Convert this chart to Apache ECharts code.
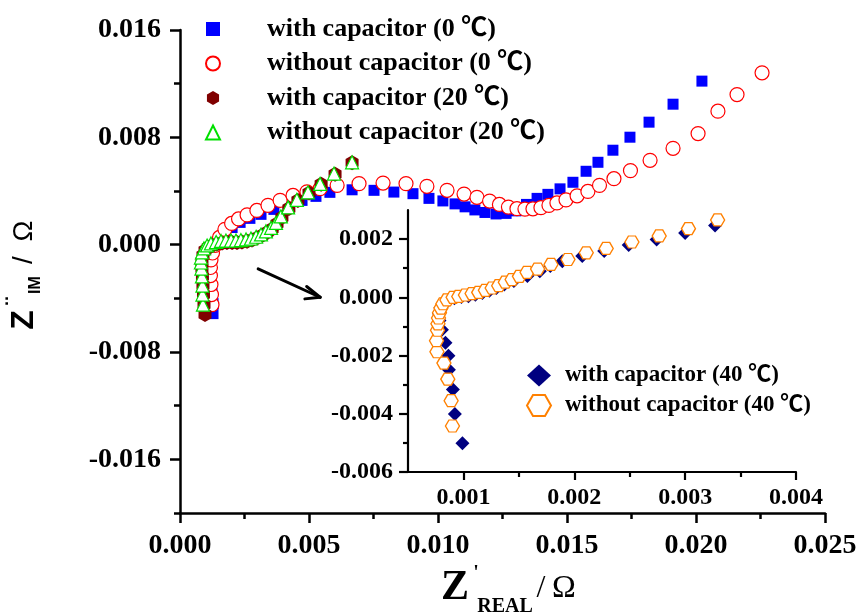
<!DOCTYPE html>
<html>
<head>
<meta charset="utf-8">
<script src="https://cdn.jsdelivr.net/npm/echarts@6/dist/echarts.min.js"></script>
<style>
  html, body { margin: 0; padding: 0; background: #fff; }
  #chart { width: 861px; height: 616px; }
</style>
</head>
<body>
<div id="chart"></div>
<script>
// Nyquist data, [Z'real, Z''im] in ohm
const withCap0C = [[0.00128,-0.00514],[0.00128,-0.00439],[0.00124,-0.00364],[0.00120,-0.00290],[0.00116,-0.00223],[0.00112,-0.00155],[0.00112,-0.00103],[0.00120,-0.00051],[0.00132,-0.00006],[0.00151,0.00046],[0.00174,0.00091],[0.00202,0.00128],[0.00233,0.00166],[0.00271,0.00196],[0.00314,0.00226],[0.00364,0.00263],[0.00419,0.00300],[0.00473,0.00330],[0.00527,0.00360],[0.00581,0.00390],[0.00667,0.00409],[0.00752,0.00405],[0.00829,0.00392],[0.00903,0.00380],[0.00965,0.00345],[0.01019,0.00326],[0.01066,0.00304],[0.01105,0.00282],[0.01143,0.00259],[0.01182,0.00240],[0.01225,0.00229],[0.01264,0.00233],[0.01302,0.00252],[0.01343,0.00300],[0.01384,0.00345],[0.01426,0.00375],[0.01473,0.00416],[0.01523,0.00465],[0.01574,0.00547],[0.01620,0.00614],[0.01678,0.00704],[0.01744,0.00801],[0.01818,0.00913],[0.01911,0.01047],[0.02023,0.01219]];

const withoutCap0C = [[0.00124,-0.00447],[0.00122,-0.00372],[0.00120,-0.00297],[0.00118,-0.00230],[0.00118,-0.00170],[0.00120,-0.00114],[0.00126,-0.00062],[0.00136,-0.00006],[0.00153,0.00054],[0.00174,0.00114],[0.00200,0.00158],[0.00227,0.00192],[0.00260,0.00222],[0.00298,0.00255],[0.00341,0.00293],[0.00388,0.00330],[0.00438,0.00367],[0.00492,0.00394],[0.00543,0.00417],[0.00609,0.00442],[0.00694,0.00455],[0.00787,0.00459],[0.00876,0.00455],[0.00957,0.00435],[0.01035,0.00405],[0.01101,0.00377],[0.01151,0.00353],[0.01200,0.00325],[0.01238,0.00300],[0.01273,0.00280],[0.01306,0.00268],[0.01337,0.00265],[0.01368,0.00267],[0.01399,0.00276],[0.01430,0.00293],[0.01461,0.00311],[0.01496,0.00334],[0.01539,0.00364],[0.01581,0.00397],[0.01626,0.00442],[0.01682,0.00492],[0.01746,0.00552],[0.01822,0.00629],[0.01911,0.00718],[0.02008,0.00828],[0.02085,0.00995],[0.02159,0.01119],[0.02256,0.01281]];

const withCap20C = [[0.00097,-0.00521],[0.00093,-0.00447],[0.00091,-0.00372],[0.00089,-0.00305],[0.00087,-0.00237],[0.00085,-0.00178],[0.00085,-0.00125],[0.00089,-0.00081],[0.00097,-0.00043],[0.00109,-0.00021],[0.00124,-0.00006],[0.00143,0.00005],[0.00163,0.00013],[0.00182,0.00016],[0.00202,0.00016],[0.00221,0.00016],[0.00240,0.00020],[0.00260,0.00026],[0.00279,0.00035],[0.00298,0.00050],[0.00318,0.00069],[0.00337,0.00091],[0.00357,0.00117],[0.00376,0.00155],[0.00395,0.00203],[0.00422,0.00270],[0.00457,0.00330],[0.00500,0.00386],[0.00547,0.00450],[0.00601,0.00524],[0.00667,0.00610]];

const withoutCap20C = [[0.00089,-0.00447],[0.00087,-0.00372],[0.00087,-0.00305],[0.00085,-0.00237],[0.00083,-0.00178],[0.00081,-0.00133],[0.00081,-0.00096],[0.00085,-0.00058],[0.00093,-0.00028],[0.00105,-0.00006],[0.00120,0.00009],[0.00140,0.00020],[0.00159,0.00028],[0.00178,0.00031],[0.00198,0.00031],[0.00217,0.00031],[0.00236,0.00034],[0.00256,0.00039],[0.00275,0.00046],[0.00295,0.00059],[0.00314,0.00076],[0.00333,0.00099],[0.00353,0.00125],[0.00372,0.00162],[0.00391,0.00211],[0.00419,0.00278],[0.00453,0.00334],[0.00496,0.00390],[0.00543,0.00453],[0.00597,0.00530],[0.00667,0.00614]];

const withCap40C = [[0.000991,-0.00501],[0.000923,-0.00401],[0.000905,-0.00317],[0.000869,-0.00249],[0.000865,-0.00201],[0.000838,-0.00156],[0.000806,-0.00111],[0.000784,-0.00080],[0.000779,-0.00056],[0.000793,-0.00036],[0.000820,-0.00020],[0.000865,-0.00010],[0.000919,-0.00003],[0.000982,0.00001],[0.001045,0.00004],[0.001108,0.00009],[0.001171,0.00015],[0.001234,0.00023],[0.001297,0.00032],[0.001369,0.00044],[0.001455,0.00056],[0.001577,0.00073],[0.001689,0.00090],[0.001784,0.00108],[0.001892,0.00124],[0.002072,0.00142],[0.002270,0.00159],[0.002491,0.00180],[0.002743,0.00199],[0.003000,0.00221],[0.003270,0.00247]];

const withoutCap40C = [[0.000901,-0.00442],[0.000889,-0.00355],[0.000859,-0.00281],[0.000824,-0.00226],[0.000761,-0.00187],[0.000757,-0.00149],[0.000766,-0.00113],[0.000770,-0.00091],[0.000775,-0.00071],[0.000784,-0.00053],[0.000797,-0.00037],[0.000815,-0.00022],[0.000851,-0.00009],[0.000907,0.00000],[0.000958,0.00003],[0.001018,0.00008],[0.001078,0.00013],[0.001138,0.00017],[0.001198,0.00024],[0.001259,0.00032],[0.001318,0.00040],[0.001378,0.00052],[0.001439,0.00061],[0.001505,0.00072],[0.001574,0.00086],[0.001669,0.00097],[0.001790,0.00113],[0.001943,0.00130],[0.002108,0.00153],[0.002288,0.00168],[0.002520,0.00190],[0.002766,0.00211],[0.003030,0.00236],[0.003293,0.00266]];

const seriesNames = [
  'with capacitor (0 \u2103)',
  'without capacitor (0 \u2103)',
  'with capacitor (20 \u2103)',
  'without capacitor (20 \u2103)',
  'with capacitor (40 \u2103)',
  'without capacitor (40 \u2103)'
];

// tick values
const mainYMajor = [-0.016, -0.008, 0, 0.008, 0.016];
const mainYMinor = [-0.020, -0.012, -0.004, 0.004, 0.012];
const insetXMajor = [0.001, 0.002, 0.003, 0.004];
const insetXMinor = [0.0015, 0.0025, 0.0035];
const insetYMajor = [-0.006, -0.004, -0.002, 0, 0.002];
const insetYMinor = [-0.005, -0.003, -0.001, 0.001];

// arrow from the main curves towards the inset: shaft and the two head strokes
const arrowTail = [0.00303, -0.00180];
const arrowTip = [0.00543, -0.00392];
const arrowWingUpper = [0.00491, -0.00312];
const arrowWingLower = [0.00484, -0.00404];

const SERIF = "'Liberation Serif', 'Times New Roman', 'Noto Sans CJK SC', serif";
const SANS = "'Liberation Sans', Arial, sans-serif";
const hexPointy = 'path://M0,-1L0.866,-0.5L0.866,0.5L0,1L-0.866,0.5L-0.866,-0.5Z';
const hexFlat = 'path://M-1,0L-0.5,-0.866L0.5,-0.866L1,0L0.5,0.866L-0.5,0.866Z';

const fmt3 = v => v.toFixed(3);

function tickAxis(extra) {
  return Object.assign({
    type: 'value',
    splitLine: { show: false },
    axisLine: { show: true, onZero: false, lineStyle: { color: '#000', width: 2.5 } },
    axisTick: { show: true, inside: false, length: 10, lineStyle: { color: '#000', width: 2.5 } },
    axisLabel: { color: '#000', fontFamily: SERIF, fontWeight: 'bold', fontSize: 28, formatter: fmt3 }
  }, extra);
}

const chart = echarts.init(document.getElementById('chart'), null, { renderer: 'canvas' });

chart.setOption({
  animation: false,
  backgroundColor: '#fff',
  grid: [
    { left: 180, right: 36, top: 30, bottom: 103 },
    { left: 408, right: 65, top: 210, bottom: 144 }
  ],
  xAxis: [
    tickAxis({
      gridIndex: 0, min: 0, max: 0.025, interval: 0.005, position: 'bottom',
      minorTick: { show: true, splitNumber: 2, length: 6, lineStyle: { color: '#000', width: 2.5 } },
      axisLabel: { color: '#000', fontFamily: SERIF, fontWeight: 'bold', fontSize: 28, margin: 19, formatter: fmt3 }
    }),
    tickAxis({
      gridIndex: 1, min: 0.0005, max: 0.004, position: 'bottom',
      axisLine: { show: true, onZero: false, lineStyle: { color: '#000', width: 2.2 } },
      axisTick: { show: true, length: 8, customValues: insetXMajor, lineStyle: { color: '#000', width: 2.2 } },
      axisLabel: { color: '#000', fontFamily: SERIF, fontWeight: 'bold', fontSize: 24, margin: 14, customValues: insetXMajor, formatter: fmt3 }
    }),
    tickAxis({
      gridIndex: 1, min: 0.0005, max: 0.004, position: 'bottom', offset: 0,
      axisLine: { show: false, onZero: false },
      axisTick: { show: true, length: 5, customValues: insetXMinor, lineStyle: { color: '#000', width: 2.2 } },
      axisLabel: { show: false }
    })
  ],
  yAxis: [
    tickAxis({
      gridIndex: 0, min: -0.020, max: 0.016, position: 'left',
      axisTick: { show: true, length: 10, customValues: mainYMajor, lineStyle: { color: '#000', width: 2.5 } },
      axisLabel: { color: '#000', fontFamily: SERIF, fontWeight: 'bold', fontSize: 28, margin: 19, customValues: mainYMajor, formatter: fmt3 }
    }),
    tickAxis({
      gridIndex: 0, min: -0.020, max: 0.016, position: 'left', offset: 0,
      axisLine: { show: false, onZero: false },
      axisTick: { show: true, length: 6, customValues: mainYMinor, lineStyle: { color: '#000', width: 2.5 } },
      axisLabel: { show: false }
    }),
    tickAxis({
      gridIndex: 1, min: -0.006, max: 0.003, position: 'left',
      axisLine: { show: true, onZero: false, lineStyle: { color: '#000', width: 2.2 } },
      axisTick: { show: true, length: 9, customValues: insetYMajor, lineStyle: { color: '#000', width: 2.2 } },
      axisLabel: { color: '#000', fontFamily: SERIF, fontWeight: 'bold', fontSize: 24, margin: 15, customValues: insetYMajor, formatter: fmt3 }
    }),
    tickAxis({
      gridIndex: 1, min: -0.006, max: 0.003, position: 'left', offset: 0,
      axisLine: { show: false, onZero: false },
      axisTick: { show: true, length: 5, customValues: insetYMinor, lineStyle: { color: '#000', width: 2.2 } },
      axisLabel: { show: false }
    })
  ],
  legend: [
    {
      orient: 'vertical', left: 200, top: 11, itemGap: 8.5,
      itemWidth: 14, itemHeight: 14,
      data: seriesNames.slice(0, 4),
      textStyle: { color: '#000', fontFamily: SERIF, fontWeight: 'bold', fontSize: 26, padding: [0, 0, 0, 42] },
      selectedMode: false
    },
    {
      orient: 'vertical', left: 521, top: 359, itemGap: 7,
      itemWidth: 24, itemHeight: 22,
      data: seriesNames.slice(4),
      textStyle: { color: '#000', fontFamily: SERIF, fontWeight: 'bold', fontSize: 23, padding: [0, 0, 0, 9] },
      selectedMode: false
    }
  ],
  series: [
    {
      name: seriesNames[0], type: 'scatter', xAxisIndex: 0, yAxisIndex: 0,
      data: withCap0C, symbol: 'rect', symbolSize: 11,
      itemStyle: { color: '#0000ff', opacity: 1 },
      markLine: {
        silent: true, animation: false,
        symbol: ['none', 'none'],
        label: { show: false },
        lineStyle: { color: '#000', width: 3, type: 'solid', cap: 'round' },
        emphasis: { disabled: true },
        data: [
          [{ coord: arrowTail }, { coord: arrowTip }],
          [{ coord: arrowWingUpper }, { coord: arrowTip }],
          [{ coord: arrowWingLower }, { coord: arrowTip }]
        ]
      }
    },
    {
      name: seriesNames[1], type: 'scatter', xAxisIndex: 0, yAxisIndex: 0,
      data: withoutCap0C, symbol: 'circle', symbolSize: 14,
      itemStyle: { color: '#fff', borderColor: '#ff0000', borderWidth: 1.2, opacity: 1 }
    },
    {
      name: seriesNames[2], type: 'scatter', xAxisIndex: 0, yAxisIndex: 0,
      data: withCap20C, symbol: hexPointy, symbolSize: [13, 15],
      itemStyle: { color: '#800000', opacity: 1 }
    },
    {
      name: seriesNames[3], type: 'scatter', xAxisIndex: 0, yAxisIndex: 0,
      data: withoutCap20C, symbol: 'triangle', symbolSize: 13,
      itemStyle: { color: '#fff', borderColor: '#00e000', borderWidth: 1.2, opacity: 1 }
    },
    {
      name: seriesNames[4], type: 'scatter', xAxisIndex: 1, yAxisIndex: 2,
      data: withCap40C, symbol: 'diamond', symbolSize: 14,
      itemStyle: { color: '#000080', opacity: 1 }
    },
    {
      name: seriesNames[5], type: 'scatter', xAxisIndex: 1, yAxisIndex: 2,
      data: withoutCap40C, symbol: hexFlat, symbolSize: [14, 12],
      itemStyle: { color: '#fff', borderColor: '#ff8000', borderWidth: 1.3, opacity: 1 }
    }
  ],
  graphic: [
    // x-axis title: Z'REAL / Ω
    { type: 'text', x: 455, y: 588, style: { text: 'Z', font: 'bold 42px ' + SERIF, fill: '#000', align: 'center', verticalAlign: 'middle' } },
    { type: 'text', x: 476, y: 574, style: { text: "'", font: 'bold 20px ' + SERIF, fill: '#000', align: 'center', verticalAlign: 'middle' } },
    { type: 'text', x: 505, y: 607, style: { text: 'REAL', font: 'bold 20px ' + SERIF, fill: '#000', align: 'center', verticalAlign: 'middle' } },
    { type: 'text', x: 541, y: 589, style: { text: '/', font: '32px ' + SERIF, fill: '#000', align: 'center', verticalAlign: 'middle' } },
    { type: 'text', x: 564, y: 589, style: { text: '\u03A9', font: '32px ' + SERIF, fill: '#000', align: 'center', verticalAlign: 'middle' } },
    // y-axis title: Z''IM / Ω (rotated)
    { type: 'text', x: 24, y: 320, rotation: Math.PI / 2, style: { text: 'Z', font: 'bold 32px ' + SANS, fill: '#000', align: 'center', verticalAlign: 'middle' } },
    { type: 'text', x: 15, y: 301, rotation: Math.PI / 2, style: { text: '\u00A8', font: 'bold 24px ' + SANS, fill: '#000', align: 'center', verticalAlign: 'middle' } },
    { type: 'text', x: 36, y: 285, rotation: Math.PI / 2, style: { text: 'IM', font: 'bold 16px ' + SANS, fill: '#000', align: 'center', verticalAlign: 'middle' } },
    { type: 'text', x: 24, y: 260, rotation: Math.PI / 2, style: { text: '/', font: '28px ' + SANS, fill: '#000', align: 'center', verticalAlign: 'middle' } },
    { type: 'text', x: 24, y: 231, rotation: Math.PI / 2, style: { text: '\u03A9', font: '28px ' + SANS, fill: '#000', align: 'center', verticalAlign: 'middle' } }
  ]
});
</script>
</body>
</html>
